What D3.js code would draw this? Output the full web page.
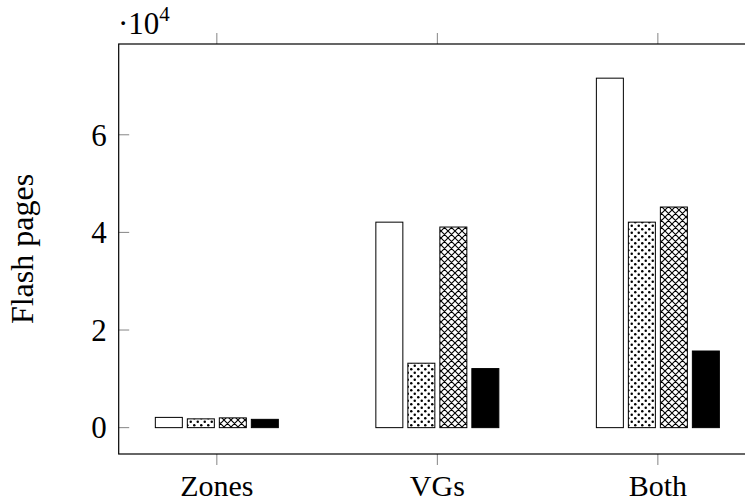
<!DOCTYPE html>
<html lang="en">
<head>
<meta charset="UTF-8">
<script src="https://d3js.org/d3.v7.min.js"></script>
<style>
  body { margin: 0; background: #fff; }
  text { font-family: "Liberation Serif", "DejaVu Serif", serif; fill: #000; }
</style>
</head>
<body>
<script>
// data (flash pages)
const categories = ["Zones", "VGs", "Both"];
const seriesNames = ["plain", "dots", "crosshatch", "solid"];
const plainVals = [2100, 42100, 71600];
const dotsVals = [1800, 13200, 42100];
const crossVals = [2000, 41100, 45200];
const solidVals = [1700, 12100, 15700];
const yTicks = [0, 20000, 40000, 60000];

const values = [plainVals, dotsVals, crossVals, solidVals];

const width = 745, height = 504;
const axLeft = 118.7, axRight = 756, axTop = 44, axBottom = 454;

const svg = d3.select("body").append("svg")
    .attr("width", width)
    .attr("height", height);

// patterns
const defs = svg.append("defs");
const dp = defs.append("pattern").attr("id", "dots")
    .attr("patternUnits", "userSpaceOnUse").attr("width", 7).attr("height", 7);
dp.append("rect").attr("width", 7).attr("height", 7).attr("fill", "#fff");
dp.append("circle").attr("cx", 1.75).attr("cy", 1.75).attr("r", 1.25).attr("fill", "#000");
dp.append("circle").attr("cx", 5.25).attr("cy", 5.25).attr("r", 1.25).attr("fill", "#000");

const cp = defs.append("pattern").attr("id", "cross")
    .attr("patternUnits", "userSpaceOnUse").attr("width", 7).attr("height", 7);
cp.append("rect").attr("width", 7).attr("height", 7).attr("fill", "#fff");
cp.append("path").attr("d", "M0,0L7,7M7,0L0,7M-1,6L1,8M6,-1L8,1M-1,1L1,-1M6,8L8,6")
    .attr("stroke", "#000").attr("stroke-width", 1.1);

const fills = ["#fff", "url(#dots)", "url(#cross)", "#000"];

// scales
const x = d3.scalePoint().domain(categories).range([axLeft, axRight]).padding(0.445);
const xs = d3.scaleBand().domain(seriesNames).range([-61.5, 61.5])
    .paddingInner(0.15625).paddingOuter(0);
const y = d3.scaleLinear().domain([-5400, 78600]).range([axBottom, axTop]);

// bars
const bars = [];
values.forEach((vals, si) => {
    vals.forEach((v, ci) => bars.push({ s: si, c: categories[ci], v: v }));
});
svg.append("g").selectAll("rect")
    .data(bars)
    .enter().append("rect")
    .attr("x", d => x(d.c) + xs(seriesNames[d.s]))
    .attr("y", d => y(d.v))
    .attr("width", xs.bandwidth())
    .attr("height", d => y(0) - y(d.v))
    .attr("fill", d => fills[d.s])
    .attr("stroke", "#000")
    .attr("stroke-width", 1);

// y ticks (inward, both sides)
const yt = svg.append("g");
yTicks.forEach(t => {
    yt.append("line").attr("x1", axLeft).attr("x2", axLeft + 10.5)
        .attr("y1", y(t)).attr("y2", y(t)).attr("stroke", "#666").attr("stroke-width", 0.8);
    yt.append("line").attr("x1", axRight - 10.5).attr("x2", axRight)
        .attr("y1", y(t)).attr("y2", y(t)).attr("stroke", "#666").attr("stroke-width", 0.8);
    yt.append("text").attr("x", axLeft - 12).attr("y", y(t)).attr("dy", "0.35em")
        .attr("text-anchor", "end").attr("font-size", 31).text(t / 10000);
});

// x ticks (outward, top and bottom)
const xt = svg.append("g");
categories.forEach(c => {
    xt.append("line").attr("x1", x(c)).attr("x2", x(c))
        .attr("y1", axBottom).attr("y2", axBottom + 11).attr("stroke", "#666").attr("stroke-width", 0.8);
    xt.append("line").attr("x1", x(c)).attr("x2", x(c))
        .attr("y1", axTop).attr("y2", axTop - 11).attr("stroke", "#666").attr("stroke-width", 0.8);
    xt.append("text").attr("x", x(c)).attr("y", 496)
        .attr("text-anchor", "middle").attr("font-size", 30).text(c);
});

// frame
svg.append("rect").attr("x", axLeft).attr("y", axTop)
    .attr("width", axRight - axLeft).attr("height", axBottom - axTop)
    .attr("fill", "none").attr("stroke", "#000").attr("stroke-width", 1.2);

// scale label
const sc = svg.append("text").attr("x", 118).attr("y", 34).attr("font-size", 31);
sc.append("tspan").text("\u00b710");
sc.append("tspan").attr("dy", -13).attr("font-size", 21).text("4");

// y label
svg.append("text")
    .attr("transform", `translate(33,${(axTop + axBottom) / 2}) rotate(-90)`)
    .attr("text-anchor", "middle").attr("font-size", 32).text("Flash pages");
</script>
</body>
</html>
